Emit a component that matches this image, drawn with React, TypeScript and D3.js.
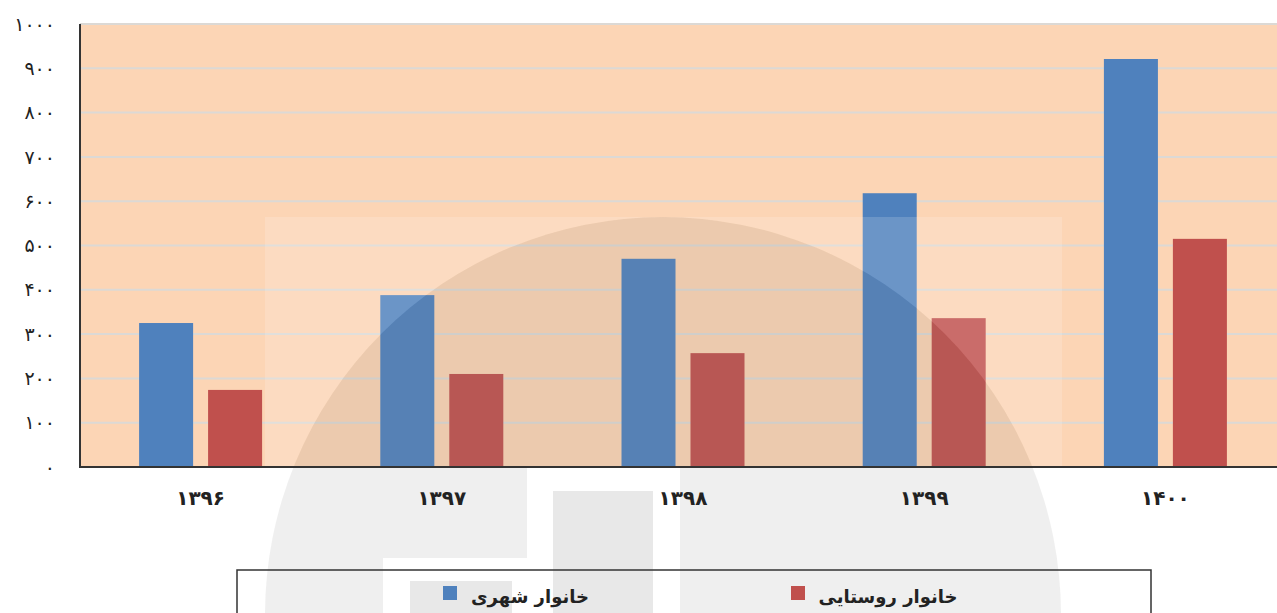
import React from 'react';
import * as d3 from 'd3';

const years = ['۱۳۹۶', '۱۳۹۷', '۱۳۹۸', '۱۳۹۹', '۱۴۰۰'];
const urban = [325, 388, 470, 618, 921];
const rural = [174, 210, 257, 336, 515];
const seriesNames = ['خانوار شهری', 'خانوار روستایی'];
const seriesColors = ['#4F81BD', '#C0504D'];
const yTicks = [0, 100, 200, 300, 400, 500, 600, 700, 800, 900, 1000];

const toPersian = (n: number) => String(n).replace(/\d/g, d => '۰۱۲۳۴۵۶۷۸۹'[+d]);

const W = 1277;
const H = 613;
const plot = { left: 80, right: 1277, top: 24, bottom: 467 };

export default function App() {
  const x0 = d3.scaleBand<string>().domain(years).range([plot.left, 1286]);
  const x1 = d3.scaleBand<string>().domain(['u', 'r']).range([0, 123]).paddingInner(0.217);
  const y = d3.scaleLinear().domain([0, 1000]).range([plot.bottom, plot.top]);
  const groupOffset = (x0.bandwidth() - 123) / 2;

  const font = '"DejaVu Sans", "Noto Sans", sans-serif';

  return (
    <svg width={W} height={H} style={{ position: 'absolute', left: 0, top: 0, background: '#fff' }}>
      <defs>
        <mask id="noCircle">
          <rect x={0} y={0} width={W} height={H} fill="#fff" />
          <circle cx={663} cy={615} r={398} fill="#000" />
        </mask>
      </defs>

      {/* plot background */}
      <rect x={plot.left} y={plot.top} width={plot.right - plot.left} height={plot.bottom - plot.top} fill="#FCD5B5" />

      {/* gridlines */}
      {yTicks.filter(t => t > 0).map(t => (
        <line key={t} x1={plot.left} x2={plot.right} y1={y(t)} y2={y(t)} stroke="#DCD9D5" strokeWidth={2} />
      ))}

      {/* bars */}
      {years.map((yr, i) => {
        const gx = x0(yr)! + groupOffset;
        return (
          <g key={yr}>
            <rect x={gx + x1('u')!} y={y(urban[i])} width={x1.bandwidth()} height={y(0) - y(urban[i])} fill={seriesColors[0]} />
            <rect x={gx + x1('r')!} y={y(rural[i])} width={x1.bandwidth()} height={y(0) - y(rural[i])} fill={seriesColors[1]} />
          </g>
        );
      })}

      {/* watermark */}
      <g>
        <rect x={265} y={217} width={797} height={400} fill="#fff" opacity={0.16} mask="url(#noCircle)" />
        <circle cx={663} cy={615} r={398} fill="#848484" opacity={0.135} />
        <rect x={383} y={558} width={144} height={55} fill="#fff" />
        <rect x={527} y={466} width={153} height={147} fill="#fff" />
        <rect x={553} y={491} width={100} height={122} fill="#848484" opacity={0.19} />
        <rect x={410} y={581} width={102} height={32} fill="#848484" opacity={0.19} />
      </g>

      {/* axes */}
      <line x1={plot.left} x2={plot.left} y1={plot.top} y2={plot.bottom + 1} stroke="#333" strokeWidth={2} />
      <line x1={plot.left} x2={plot.right} y1={plot.bottom} y2={plot.bottom} stroke="#333" strokeWidth={2} />

      {/* y tick labels */}
      {yTicks.map(t => (
        <text key={t} x={55} y={y(t)} dy="0.35em" textAnchor="end" fontFamily={font} fontSize={19} fill="#222">
          {toPersian(t)}
        </text>
      ))}

      {/* x tick labels */}
      {years.map(yr => (
        <text key={yr} x={x0(yr)! + x0.bandwidth() / 2} y={498} dy="0.35em" textAnchor="middle" fontFamily={font} fontWeight="bold" fontSize={20} fill="#222">
          {yr}
        </text>
      ))}

      {/* legend */}
      <rect x={237} y={570} width={914} height={60} fill="none" stroke="#333" strokeWidth={1.5} />
      <rect x={443} y={586} width={14} height={14} fill={seriesColors[0]} />
      <text x={530} y={597} dy="0.35em" textAnchor="middle" fontFamily={font} fontWeight="bold" fontSize={18} fill="#222">
        {seriesNames[0]}
      </text>
      <rect x={791} y={586} width={14} height={14} fill={seriesColors[1]} />
      <text x={888} y={597} dy="0.35em" textAnchor="middle" fontFamily={font} fontWeight="bold" fontSize={18} fill="#222">
        {seriesNames[1]}
      </text>
    </svg>
  );
}
